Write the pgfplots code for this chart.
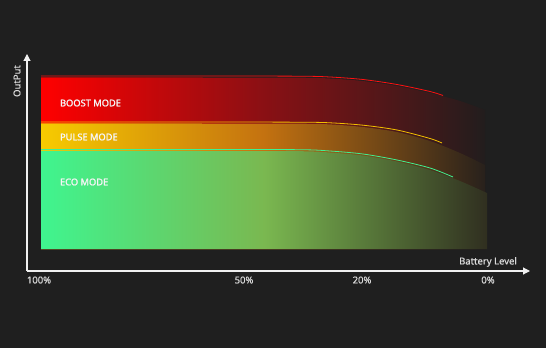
\documentclass[border=0pt]{standalone}
\usepackage{pgfplots}
\pgfplotsset{compat=1.18}
\usepackage{fontspec}
\setmainfont{Noto Sans}
\newfontfamily\modefont{Noto Sans}[FakeBold=1.6]
\newfontfamily\lblfont{Noto Sans}[FakeBold=0.5]
\usetikzlibrary{arrows.meta}
\definecolor{bg}{HTML}{1F1F1F}
\definecolor{boostL}{HTML}{FF0000}
\definecolor{boostM}{HTML}{8A1014}
\definecolor{boostR}{HTML}{221D1D}
\definecolor{pulseL}{HTML}{F7CB00}
\definecolor{pulseM}{HTML}{C47210}
\definecolor{pulseR}{HTML}{28211C}
\definecolor{ecoL}{HTML}{3FF58F}
\definecolor{ecoM}{HTML}{7AB850}
\definecolor{ecoR}{HTML}{302F20}
\definecolor{boostLine}{HTML}{FF1010}
\definecolor{pulseLine}{HTML}{F2C000}
\definecolor{ecoLine}{HTML}{40F090}
\definecolor{txt}{HTML}{DADADA}
\begin{document}
\begin{tikzpicture}
\begin{axis}[
  x=1pt, y=1pt,
  xmin=27, xmax=530, ymin=-22, ymax=195,
  axis lines=left,
  axis on top,
  clip=false,
  axis line style={draw=white!94!black, line width=1.1pt, -{Triangle[width=7pt,length=7pt]}},
  xtick={39,244,362,488},
  xticklabels={100\%,50\%,20\%,0\%},
  ytick=\empty,
  major tick length=0pt,
  xticklabel style={text=txt, font=\lblfont\fontsize{9.5}{11}\selectfont, yshift=-2pt},
  xlabel={Battery Level},
  xlabel style={at={(axis description cs:0.9165,0.0415)}, anchor=center, text=txt, font=\lblfont\fontsize{9.5}{11}\selectfont},
  ylabel={OutPut},
  ylabel style={at={(axis description cs:-0.0199,0.8756)}, anchor=center, rotate=0, text=txt, font=\lblfont\fontsize{9.5}{11}\selectfont},
]
\fill[bg] (axis cs:0,-99) rectangle (axis cs:546,249);
% BOOST area
\addplot[draw=none, smooth, left color=boostL, right color=boostR, middle color=boostM]
  coordinates {(41,171.5) (200,171.5) (300,171.3) (330,170.5) (363,168) (397,163) (430,156) (460,148) (485,139)} \closedcycle;
% PULSE area
\addplot[draw=none, smooth, left color=pulseL, right color=pulseR, middle color=pulseM]
  coordinates {(41,125.5) (200,125.5) (300,125.3) (330,124.6) (363,122) (397,117) (430,108) (460,96) (485,84)} \closedcycle;
% ECO area
\addplot[draw=none, smooth, left color=ecoL, right color=ecoR, middle color=ecoM]
  coordinates {(41,98) (200,98) (300,97.8) (330,96.5) (363,93.5) (397,87.5) (430,79) (460,68) (487,56)} \closedcycle;
% edge lines
\addplot[boostLine, smooth, line width=0.8pt] coordinates {(41,173) (200,173) (300,172.8) (330,172) (363,169.5) (397,164.5) (430,157.5) (443,153.5)};
\addplot[pulseLine, smooth, line width=0.8pt] coordinates {(41,127) (200,127) (300,126.8) (330,126.2) (363,123.8) (397,119) (430,110.5) (442,106)};
\addplot[ecoLine, smooth, line width=0.8pt] coordinates {(41,99.5) (200,99.5) (300,99.3) (330,98) (363,95) (397,89) (430,81) (453,72)};
\node[anchor=west, text=white!96!black, font=\modefont\fontsize{9.3}{11}\selectfont] at (axis cs:56.5,146) {BOOST MODE};
\node[anchor=west, text=white!96!black, font=\modefont\fontsize{9.3}{11}\selectfont] at (axis cs:56.5,112) {PULSE MODE};
\node[anchor=west, text=white!96!black, font=\modefont\fontsize{9.3}{11}\selectfont] at (axis cs:56.5,67) {ECO MODE};
\end{axis}
\end{tikzpicture}
\end{document}
